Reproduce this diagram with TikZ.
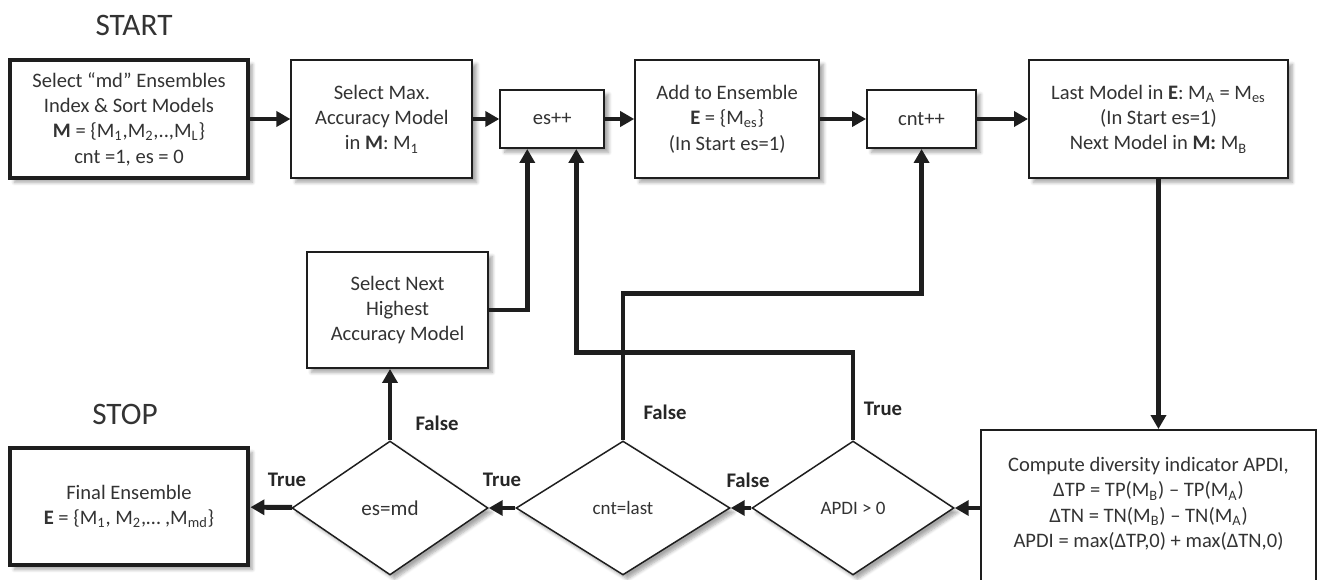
\documentclass[tikz,border=0pt]{standalone}
\usepackage{fontspec}
\setmainfont{Carlito}
\usepackage{tikz}
\usetikzlibrary{arrows.meta,positioning,calc,shapes.geometric,shadows.blur}
\definecolor{FlowInk}{HTML}{1E1E1E}
\definecolor{FlowText}{HTML}{333333}

\begin{document}
\begin{tikzpicture}[
  x=0.02cm, y=-0.02cm,
  every node/.style={font=\fontsize{11.7}{14.4}\selectfont, text=FlowText},
  stepbox/.style={draw=FlowInk, line width=1.1pt, fill=white, align=center, inner sep=2pt, minimum height=2.36cm,
    blur shadow={shadow xshift=2.5pt, shadow yshift=-2.5pt, shadow blur steps=6, shadow opacity=35}},
  endbox/.style={stepbox, line width=2.8pt},
  cond/.style={diamond, draw=FlowInk, line width=0.85pt, fill=white, inner sep=0pt, minimum height=2.68cm,
    blur shadow={shadow xshift=2.5pt, shadow yshift=-2.5pt, shadow blur steps=6, shadow opacity=35}},
  tag/.style={font=\fontsize{11.8}{13}\selectfont\bfseries, text=black!85},
  title/.style={font=\fontsize{17.8}{21}\selectfont, text=FlowText},
  arrow/.style={-{Triangle[length=0.28cm, width=0.3cm]}, line width=2.8pt, color=FlowInk}
]
\useasboundingbox (0,0) rectangle (1317,580);

% top row
\node[endbox, minimum width=4.76cm] (init) at (129,119) {Select “md” Ensembles\\Index \& Sort Models\\\textbf{M} = \{M\textsubscript{1},M\textsubscript{2},..,M\textsubscript{L}\}\\cnt =1, es = 0};
\node[stepbox, minimum width=3.62cm, right=0.8cm of init] (maxacc) {Select Max.\\Accuracy Model\\in \textbf{M}: M\textsubscript{1}};
\node[stepbox, minimum width=2.08cm, minimum height=1.16cm, right=0.52cm of maxacc] (esinc) {es++};
\node[stepbox, minimum width=3.68cm, right=0.58cm of esinc] (addens) {Add to Ensemble\\\textbf{E} = \{M\textsubscript{es}\}\\(In Start es=1)};
\node[stepbox, minimum width=2.18cm, minimum height=1.16cm, right=0.92cm of addens] (cntinc) {cnt++};
\node[stepbox, minimum width=5.18cm, right=1.02cm of cntinc] (lastmod) {Last Model in \textbf{E}: M\textsubscript{A} = M\textsubscript{es}\\(In Start es=1)\\Next Model in \textbf{M:} M\textsubscript{B}};

% lower part
\node[stepbox, minimum width=3.62cm, minimum height=2.32cm] (nextacc) at (397.5,310) {Select Next\\Highest\\Accuracy Model};
\node[endbox, minimum width=4.76cm, minimum height=2.34cm] (final) at (129,506.5) {Final Ensemble\\\textbf{E} = \{M\textsubscript{1}, M\textsubscript{2},… ,M\textsubscript{md}\}};
\node[stepbox, minimum width=6.70cm, minimum height=3.4cm] (apdicalc) at (1148.5,515) {Compute diversity indicator APDI,\\ΔTP = TP(M\textsubscript{B}) – TP(M\textsubscript{A})\\ΔTN = TN(M\textsubscript{B}) – TN(M\textsubscript{A})\\APDI = max(ΔTP,0) + max(ΔTN,0)\\ ~};

\node[cond, minimum width=3.92cm, font=\fontsize{12}{14}\selectfont] (esmd) at (390,508) {es=md};
\node[cond, minimum width=4.28cm, font=\fontsize{10.8}{12}\selectfont] (cntlast) at (623,508) {cnt=last};
\node[cond, minimum width=4.04cm, font=\fontsize{10.8}{12}\selectfont] (apdipos) at (853,508) {APDI > 0};

\node[title] (start) at (134,25) {START};
\node[title] (stop) at (125,414) {STOP};

\node[tag] (tEsmd) at (287,480) {True};
\node[tag] (fEsmd) at (437,423) {False};
\node[tag] (tCnt) at (502,480) {True};
\node[tag] (fCnt) at (665,412) {False};
\node[tag] (fApdi) at (748,480) {False};
\node[tag] (tApdi) at (883,409) {True};

\draw[arrow] (init) -- (maxacc);
\draw[arrow] (maxacc) -- (esinc);
\draw[arrow] (esinc) -- (addens);
\draw[arrow] (addens) -- (cntinc);
\draw[arrow] (cntinc) -- (lastmod);
\draw[arrow] (lastmod) -- (lastmod |- apdicalc.north);
\draw[arrow] (apdicalc.west |- apdipos.east) -- (apdipos.east);
\draw[arrow] (apdipos) -- (cntlast);
\draw[arrow] (cntlast) -- (esmd);
\draw[arrow] (esmd) -- (final);
\draw[arrow] (esmd.north) -- (esmd.north |- nextacc.south);
\draw[arrow] (nextacc.east) -| ($(esinc.south)+(-25,0)$);
\draw[arrow] (apdipos.north) -- ++(0,-88) -| ($(esinc.south)+(24,0)$);
\draw[arrow] (cntlast.north) -- ++(0,-147) -| (cntinc.south);
\end{tikzpicture}
\end{document}
